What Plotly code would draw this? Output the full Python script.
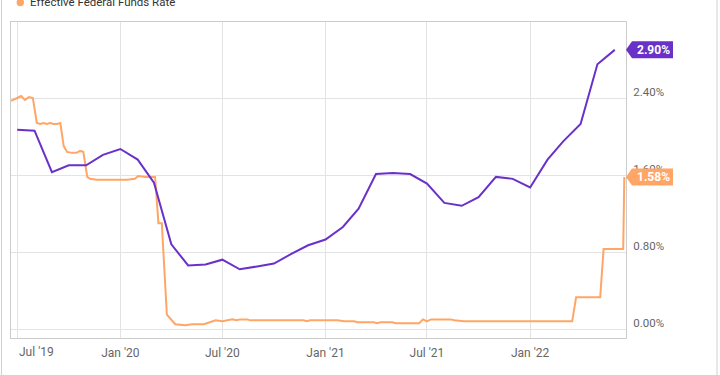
import plotly.graph_objects as go

# ---------------- data ----------------
purple_dates = [
    "2019-07-01", "2019-08-01", "2019-09-01", "2019-10-01", "2019-11-01", "2019-12-01",
    "2020-01-01", "2020-02-01", "2020-03-01", "2020-04-01", "2020-05-01", "2020-06-01",
    "2020-07-01", "2020-08-01", "2020-09-01", "2020-10-01", "2020-11-01", "2020-12-01",
    "2021-01-01", "2021-02-01", "2021-03-01", "2021-04-01", "2021-05-01", "2021-06-01",
    "2021-07-01", "2021-08-01", "2021-09-01", "2021-10-01", "2021-11-01", "2021-12-01",
    "2022-01-01", "2022-02-01", "2022-03-01", "2022-04-01", "2022-05-01", "2022-06-01",
]
purple_values = [
    2.07, 2.06, 1.63, 1.70, 1.70, 1.81,
    1.87, 1.76, 1.52, 0.88, 0.66, 0.67,
    0.72, 0.62, 0.65, 0.68, 0.78, 0.87,
    0.93, 1.06, 1.25, 1.61, 1.62, 1.61,
    1.51, 1.31, 1.28, 1.37, 1.58, 1.56,
    1.47, 1.76, 1.95, 2.13, 2.75, 2.90,
]

effr_dates = [
    "2019-06-20", "2019-06-26", "2019-07-01", "2019-07-08", "2019-07-15", "2019-07-22",
    "2019-07-29", "2019-08-05", "2019-08-11", "2019-08-17", "2019-08-23", "2019-08-29",
    "2019-09-04", "2019-09-10", "2019-09-16", "2019-09-22", "2019-09-28", "2019-10-07",
    "2019-10-15", "2019-10-21", "2019-10-27", "2019-11-03", "2019-11-08", "2019-11-20",
    "2019-12-05", "2019-12-20", "2020-01-05", "2020-01-13", "2020-01-27", "2020-02-02",
    "2020-02-15", "2020-03-03", "2020-03-09", "2020-03-15", "2020-03-24", "2020-04-05",
    "2020-04-08", "2020-04-26", "2020-05-08", "2020-05-29", "2020-06-19", "2020-07-01",
    "2020-07-19", "2020-07-26", "2020-08-02", "2020-08-14", "2020-08-20", "2020-11-23",
    "2020-11-28", "2020-12-05", "2021-01-22", "2021-02-03", "2021-02-21", "2021-02-27",
    "2021-03-28", "2021-04-03", "2021-04-09", "2021-04-30", "2021-05-06", "2021-06-17",
    "2021-06-24", "2021-07-01", "2021-07-08", "2021-08-12", "2021-08-19", "2021-09-05",
    "2022-03-17", "2022-03-24", "2022-05-06", "2022-05-12", "2022-06-16", "2022-06-18",
]
effr_values = [
    2.37, 2.39, 2.40, 2.42, 2.38, 2.41,
    2.40, 2.14, 2.13, 2.14, 2.13, 2.14,
    2.13, 2.13, 2.14, 1.90, 1.84, 1.83,
    1.83, 1.85, 1.84, 1.58, 1.56, 1.55,
    1.55, 1.55, 1.55, 1.55, 1.56, 1.59,
    1.58, 1.58, 1.10, 1.10, 0.15, 0.06,
    0.05, 0.04, 0.05, 0.05, 0.09, 0.08,
    0.10, 0.09, 0.10, 0.10, 0.09, 0.09,
    0.08, 0.09, 0.09, 0.08, 0.08, 0.07,
    0.07, 0.06, 0.07, 0.07, 0.06, 0.06,
    0.10, 0.08, 0.10, 0.10, 0.09, 0.08,
    0.08, 0.33, 0.33, 0.83, 0.83, 1.58,
]

x_tick_vals = ["2019-07-01", "2020-01-01", "2020-07-01", "2021-01-01", "2021-07-01", "2022-01-01"]
x_tick_text = ["", "Jan '20", "Jul '20", "Jan '21", "Jul '21", "Jan '22"]
first_x_label = "Jul '19"
y_tick_vals = [0.0, 0.8, 1.6, 2.4]
y_tick_text = ["0.00%", "0.80%", "1.60%", "2.40%"]

legend_label = "Effective Federal Funds Rate"
purple_last_label = "2.90%"
effr_last_label = "1.58%"

# ---------------- style ----------------
PURPLE = "#6A31C9"
ORANGE = "#FFA666"
FONT = "Roboto"
TICK_COLOR = "#666666"
W, H = 720, 375
ML, MR, MT, MB = 11, 94, 22, 37
PW = W - ML - MR
PH = H - MT - MB
Y_RANGE = [-0.0935, 3.1896]
X_RANGE = ["2019-06-20", "2022-06-21"]


def py(v):
    return (v - Y_RANGE[0]) / (Y_RANGE[1] - Y_RANGE[0])


def px_x(p):
    return (p - ML) / PW


def px_y(p):
    return (H - MB - p) / PH


fig = go.Figure()
fig.add_trace(go.Scatter(x=effr_dates, y=effr_values, mode="lines",
                         line=dict(color=ORANGE, width=2), hoverinfo="skip"))
fig.add_trace(go.Scatter(x=purple_dates, y=purple_values, mode="lines",
                         line=dict(color=PURPLE, width=2), hoverinfo="skip"))

shapes = []
annotations = []

# end-value tags
for val, txt, col in [(purple_values[-1], purple_last_label, PURPLE),
                      (effr_values[-1], effr_last_label, ORANGE)]:
    shapes.append(dict(type="path", xref="paper", yref="paper",
                       xsizemode="pixel", ysizemode="pixel",
                       xanchor=1, yanchor=py(val),
                       path="M0,0 L6,8.5 L47,8.5 L47,-8.5 L6,-8.5 Z",
                       fillcolor=col, line=dict(width=0), layer="above"))
    annotations.append(dict(xref="paper", yref="paper", x=1, y=py(val),
                            xanchor="center", yanchor="middle", xshift=27,
                            text="<b>" + txt + "</b>", showarrow=False,
                            font=dict(family=FONT, size=12, color="white")))

# legend (partially cut at top)
shapes.append(dict(type="circle", xref="paper", yref="paper",
                   xsizemode="pixel", ysizemode="pixel",
                   xanchor=px_x(20.3), yanchor=px_y(2.5),
                   x0=-3.7, x1=3.7, y0=-3.7, y1=3.7,
                   fillcolor=ORANGE, line=dict(width=0)))
annotations.append(dict(xref="paper", yref="paper", x=px_x(28), y=px_y(2),
                        xanchor="left", yanchor="middle", text=legend_label,
                        showarrow=False, font=dict(family=FONT, size=11.5, color="#333333")))

# first x label (shifted right)
annotations.append(dict(xref="paper", yref="paper", x=px_x(36), y=px_y(352),
                        xanchor="center", yanchor="middle", text=first_x_label,
                        showarrow=False, font=dict(family=FONT, size=12, color=TICK_COLOR)))

# outer frame lines
for xp in [1.5, 717]:
    shapes.append(dict(type="line", xref="paper", yref="paper",
                       x0=px_x(xp), x1=px_x(xp), y0=px_y(H), y1=px_y(0),
                       line=dict(color="#d0d0d0", width=1)))

fig.update_layout(
    width=W, height=H,
    margin=dict(l=ML, r=MR, t=MT, b=MB),
    paper_bgcolor="white", plot_bgcolor="white",
    showlegend=False,
    shapes=shapes, annotations=annotations,
    font=dict(family=FONT),
)
fig.update_xaxes(type="date", range=X_RANGE, tickvals=x_tick_vals, ticktext=x_tick_text,
                 showgrid=True, gridcolor="#e3e3e3", gridwidth=1,
                 showline=True, linecolor="#cccccc", linewidth=1, mirror=True,
                 ticks="", tickfont=dict(family=FONT, size=12, color=TICK_COLOR),
                 ticklabelstandoff=4, zeroline=False)
fig.update_yaxes(range=Y_RANGE, side="right", tickvals=y_tick_vals, ticktext=y_tick_text,
                 showgrid=True, gridcolor="#e3e3e3", gridwidth=1,
                 showline=True, linecolor="#cccccc", linewidth=1, mirror=True,
                 ticks="", tickfont=dict(family=FONT, size=11.5, color=TICK_COLOR),
                 ticklabelshift=-6, ticklabelstandoff=4, zeroline=False)

fig.write_html("out.html", config={"displayModeBar": False},
               post_script="document.body.style.margin='0';document.body.style.padding='0';")
